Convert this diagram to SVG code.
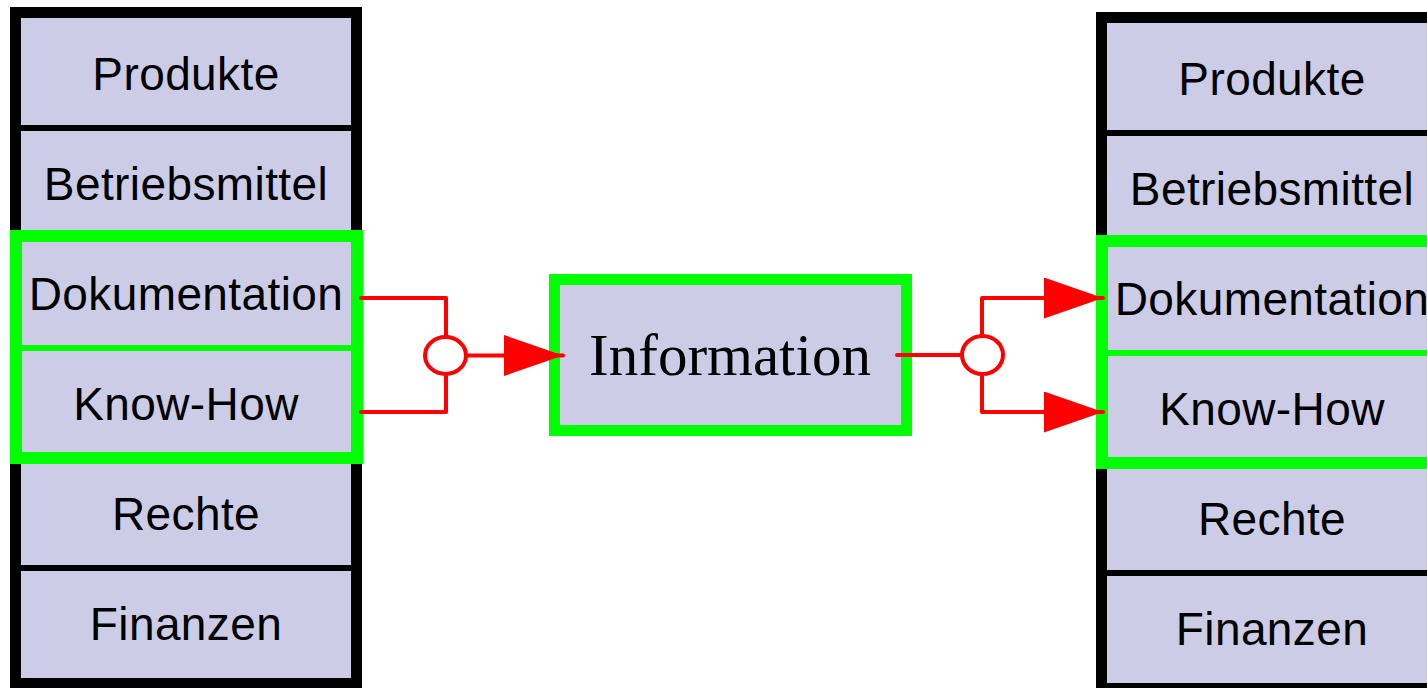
<svg xmlns="http://www.w3.org/2000/svg" width="1427" height="688" viewBox="0 0 1427 688">
<style>
.frame{fill:#cccce6;stroke:#000;stroke-width:11}
.div{stroke:#000;stroke-width:6}
.gframe{fill:none;stroke:#00ff00;stroke-width:12}
.gdiv{stroke:#00ff00;stroke-width:6}
.lbl{font-family:"Liberation Sans",Arial,Helvetica,sans-serif;font-size:46px;letter-spacing:0.4px;fill:#000;text-anchor:middle}
.info{font-family:"Liberation Serif","Times New Roman",serif;font-size:59px;fill:#000;text-anchor:middle}
.con{fill:none;stroke:#ff0000;stroke-width:4;stroke-linecap:round;stroke-linejoin:round}
.junc{fill:#fff;stroke:#ff0000;stroke-width:4}
</style>
<defs>
<marker id="arr" markerUnits="userSpaceOnUse" markerWidth="60" markerHeight="41" refX="59" refY="20.5" orient="auto" viewBox="0 0 60 41">
<path d="M0,0 L59,20.5 L0,41 Z" fill="#ff0000"/>
</marker>
<g id="stack">
<rect class="frame" x="15.5" y="12.5" width="341" height="671"/>
<line class="div" x1="18" y1="128" x2="354" y2="128"/>
<line class="div" x1="18" y1="238" x2="354" y2="238"/>
<line class="div" x1="18" y1="458" x2="354" y2="458"/>
<line class="div" x1="18" y1="568" x2="354" y2="568"/>
<rect class="gframe" x="16" y="236" width="341" height="222"/>
<line class="gdiv" x1="20" y1="348" x2="352" y2="348"/>
<text class="lbl" x="186" y="89.5">Produkte</text>
<text class="lbl" x="186" y="199.5">Betriebsmittel</text>
<text class="lbl" x="186" y="309.5">Dokumentation</text>
<text class="lbl" x="186" y="419.5">Know-How</text>
<text class="lbl" x="186" y="529.5">Rechte</text>
<text class="lbl" x="186" y="639.5">Finanzen</text>
</g>
</defs>
<g id="left-resources">
<use href="#stack"/>
</g>
<g id="information">
<rect x="554.5" y="279.5" width="352" height="151" fill="#cccce6" stroke="#00ff00" stroke-width="11"/>
<text class="info" x="730" y="375">Information</text>
</g>
<g id="right-resources">
<use href="#stack" transform="translate(1086,5)"/>
</g>
<g id="connectors">
<path class="con" d="M361,298 H446 V335"/>
<path class="con" d="M361,412 H446 V376"/>
<ellipse class="junc" cx="445.5" cy="355.5" rx="20.5" ry="18.5"/>
<path class="con" d="M466,355.5 H563" marker-end="url(#arr)"/>
<path class="con" d="M897,355 H962"/>
<ellipse class="junc" cx="982.5" cy="355" rx="20.5" ry="19"/>
<path class="con" d="M982,336 V298 H1103" marker-end="url(#arr)"/>
<path class="con" d="M982,374 V412 H1103" marker-end="url(#arr)"/>
</g>
</svg>
